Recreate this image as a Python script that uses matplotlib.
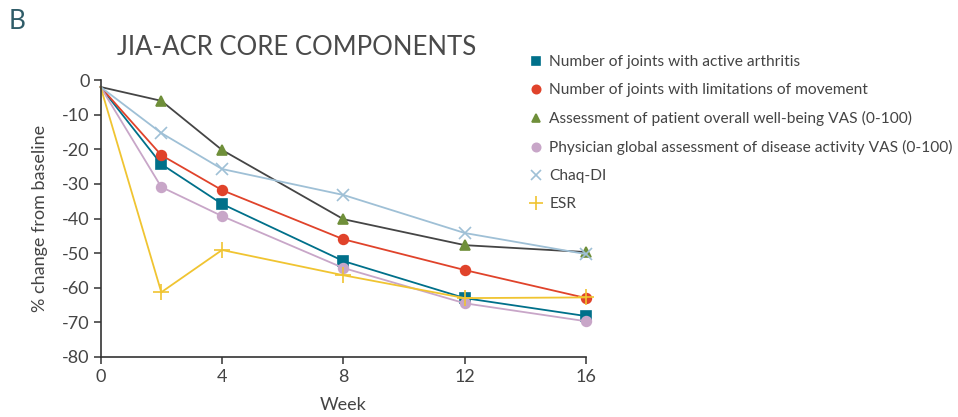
import numpy as np
import matplotlib.pyplot as plt
from matplotlib.lines import Line2D

plt.rcParams['font.family'] = ['Lato', 'DejaVu Sans']
plt.rcParams['axes.unicode_minus'] = False

weeks = [0, 2, 4, 8, 12, 16]
active_joints = [-2, -24.3, -35.8, -52.3, -63, -68.2]
limited_joints = [-2, -21.7, -31.8, -46, -54.9, -63]
patient_vas = [-2, -6, -20.2, -40.2, -47.7, -49.7]
physician_vas = [-2, -30.9, -39.3, -54.3, -64.5, -69.7]
chaq_di = [-2, -15.3, -25.7, -33.2, -44.2, -50.3]
esr = [-2, -61.3, -49.1, -56.4, -63, -62.8]

labels = ['Number of joints with active arthritis',
          'Number of joints with limitations of movement',
          'Assessment of patient overall well-being VAS (0-100)',
          'Physician global assessment of disease activity VAS (0-100)',
          'Chaq-DI',
          'ESR']

# (values, line colour, marker, marker colour, marker size)
series = [
    (active_joints, '#00708a', 's', '#00708a', 7),
    (limited_joints, '#e0432b', 'o', '#e0432b', 7),
    (patient_vas, '#454545', '^', '#6f8f3a', 7),
    (physician_vas, '#c8a6c8', 'o', '#c8a6c8', 7),
    (chaq_di, '#9fc0d6', 'x', '#9fc0d6', 8),
    (esr, '#f0c431', '+', '#f0c431', 11),
]

fig = plt.figure(figsize=(9.58, 4.17), dpi=100)
ax = fig.add_axes([0.105, 0.144, 0.507, 0.664])

for vals, lc, m, mc, ms in series:
    ax.plot(weeks[1:], vals[1:], color=lc, lw=1.3, marker=m, ms=ms,
            mfc=mc, mec=mc, mew=1.2, zorder=3)
    ax.plot(weeks[:2], vals[:2], color=lc, lw=1.3, zorder=2)

ax.set_xlim(0, 16)
ax.set_ylim(-80, 0)
ax.set_xticks([0, 4, 8, 12, 16])
ax.set_yticks(np.arange(-80, 1, 10))
ax.spines['top'].set_visible(False)
ax.spines['right'].set_visible(False)
for s in ['left', 'bottom']:
    ax.spines[s].set_color('#333333')
    ax.spines[s].set_linewidth(1.2)
ax.tick_params(direction='out', length=5, width=1.1, colors='#333333',
               labelsize=13, labelcolor='#444444')
ax.tick_params(axis='y', pad=3)
ax.set_xlabel('Week', fontsize=13, color='#444444', labelpad=9)
ax.set_ylabel('% change from baseline', fontsize=13, color='#444444', labelpad=10)
ax.patch.set_alpha(0)
for line in ax.get_lines():
    line.set_clip_on(False)

fig.text(0.009, 0.93, 'B', fontsize=19, color='#2f5c68')
fig.text(0.31, 0.868, 'JIA-ACR CORE COMPONENTS', fontsize=18.5, color='#4a4a4a',
         ha='center')

handles = []
for vals, lc, m, mc, ms in series:
    handles.append(Line2D([], [], ls='none', marker=m, ms=ms - 1, mfc=mc,
                          mec=mc, mew=1.2))
fig.legend(handles, labels, loc='upper left', bbox_to_anchor=(0.553, 0.868),
           frameon=False, fontsize=11.2, labelcolor='#444444',
           handlelength=0.8, handletextpad=0.45, labelspacing=0.9,
           borderaxespad=0, borderpad=0)

fig.savefig('out.png', dpi=100)
